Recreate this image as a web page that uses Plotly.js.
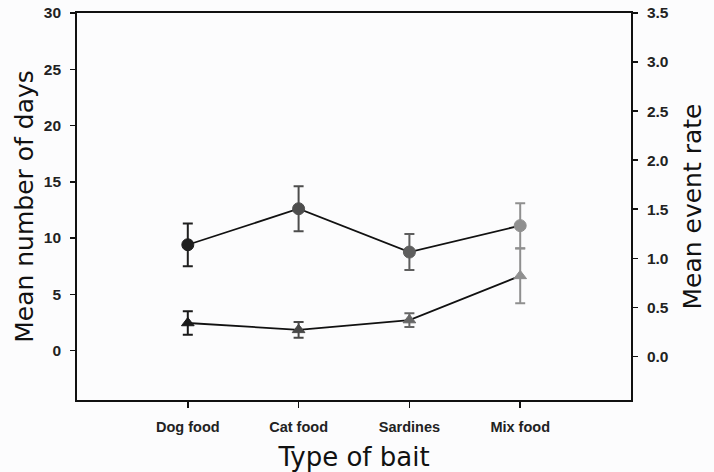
<!DOCTYPE html>
<html>
<head>
<meta charset="utf-8">
<script src="https://cdn.plot.ly/plotly-3.0.1.min.js"></script>
<style>
  html, body { margin: 0; padding: 0; background: #fcfcfd; }
  #chart { width: 714px; height: 472px; }
</style>
</head>
<body>
<div id="chart"></div>
<script>
// Bait types on the x axis
const baits = ['Dog food', 'Cat food', 'Sardines', 'Mix food'];

// Mean number of days (left axis, circles) with error bars
const meanDays = [9.4, 12.6, 8.75, 11.1];
const meanDaysErr = [1.9, 2.0, 1.6, 2.0];

// Mean event rate (right axis, triangles) with error bars
const eventRate = [0.34, 0.27, 0.37, 0.82];
const eventRateErr = [0.12, 0.08, 0.07, 0.28];

// Marker / error-bar shade for each bait
const circleShades = ['#1f1f1f', '#4d4d4d', '#5e5e5e', '#8f8f8f'];
const triangleShades = ['#1a1a1a', '#474747', '#666666', '#8f8f8f'];

// Tick values
const daysTicks = [0, 5, 10, 15, 20, 25, 30];
const rateTicks = [0, 0.5, 1, 1.5, 2, 2.5, 3, 3.5];

const traces = [];

// Connecting lines
traces.push({
  x: baits, y: meanDays, type: 'scatter', mode: 'lines',
  line: { color: '#111', width: 1.8 }, yaxis: 'y', hoverinfo: 'skip'
});
traces.push({
  x: baits, y: eventRate, type: 'scatter', mode: 'lines',
  line: { color: '#111', width: 1.8 }, yaxis: 'y2', hoverinfo: 'skip'
});

// One marker trace per point so each point keeps its own shade
baits.forEach((b, i) => {
  traces.push({
    x: [b], y: [meanDays[i]], type: 'scatter', mode: 'markers', yaxis: 'y',
    marker: { symbol: 'circle', size: 12, color: circleShades[i],
              line: { color: circleShades[i], width: 1 } },
    error_y: { type: 'data', array: [meanDaysErr[i]], visible: true,
               color: circleShades[i], thickness: 2, width: 5 }
  });
  traces.push({
    x: [b], y: [eventRate[i]], type: 'scatter', mode: 'markers', yaxis: 'y2',
    marker: { symbol: 'triangle-up', size: 11, color: triangleShades[i],
              line: { color: triangleShades[i], width: 1 } },
    error_y: { type: 'data', array: [eventRateErr[i]], visible: true,
               color: triangleShades[i], thickness: 2, width: 5 }
  });
});

const tickFont = { family: 'Liberation Sans, Arial, sans-serif', size: 15.5, color: '#222', weight: 'bold' };
const titleFont = { family: 'DejaVu Sans, Verdana, sans-serif', size: 25, color: '#111' };

const layout = {
  width: 714, height: 472,
  paper_bgcolor: '#fcfcfd', plot_bgcolor: '#fcfcfd',
  margin: { l: 77, r: 83, t: 13, b: 72 },
  showlegend: false,
  xaxis: {
    type: 'category', range: [-1, 4],
    showline: true, linecolor: '#111', linewidth: 1.8, mirror: true,
    ticks: 'outside', ticklen: 6, tickwidth: 1.5, tickcolor: '#111',
    ticklabelstandoff: 7,
    showgrid: false, zeroline: false,
    tickfont: { family: 'Liberation Sans, Arial, sans-serif', size: 14.5, color: '#222', weight: 'bold' },
    title: { text: 'Type of bait', font: { family: 'DejaVu Sans, Verdana, sans-serif', size: 26, color: '#111' }, standoff: 13 }
  },
  yaxis: {
    range: [-4.4, 30],
    tickvals: daysTicks,
    showline: true, linecolor: '#111', linewidth: 1.8,
    ticks: 'outside', ticklen: 5, tickwidth: 1.5, tickcolor: '#111',
    ticklabelstandoff: 6,
    showgrid: false, zeroline: false,
    tickfont: tickFont,
    title: { text: 'Mean number of days', font: titleFont, standoff: 3 }
  },
  yaxis2: {
    overlaying: 'y', side: 'right',
    range: [-0.445, 3.5],
    tickvals: rateTicks, tickformat: '.1f',
    showline: true, linecolor: '#111', linewidth: 1.8,
    ticks: 'outside', ticklen: 5, tickwidth: 1.5, tickcolor: '#111',
    ticklabelstandoff: 6,
    showgrid: false, zeroline: false,
    tickfont: tickFont,
    title: { text: 'Mean event rate', font: titleFont, standoff: 16 }
  }
};

Plotly.newPlot('chart', traces, layout, { staticPlot: true, displayModeBar: false });
</script>
</body>
</html>
